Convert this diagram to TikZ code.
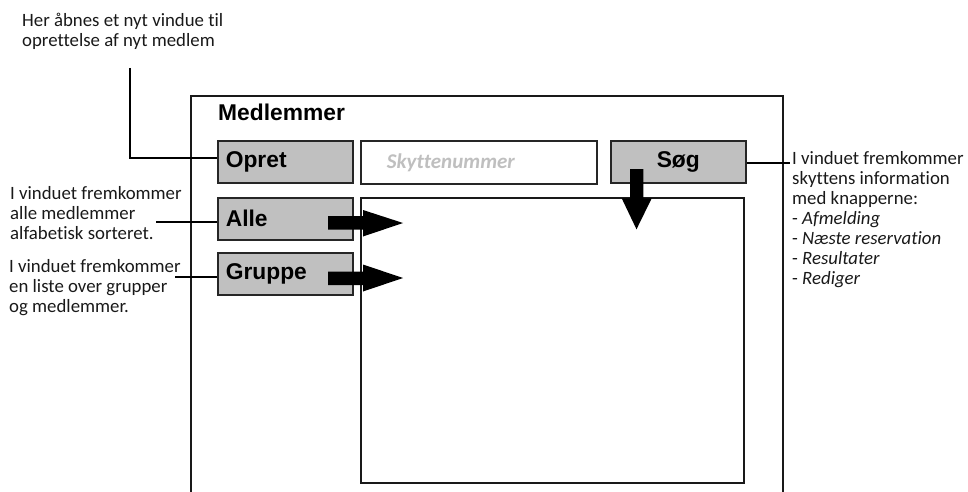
\documentclass[tikz,border=0pt]{standalone}
\usepackage{fontspec}
\setmainfont{Carlito}[Ligatures=NoCommon]
\newfontfamily\arialfont{Liberation Sans}
\definecolor{btngray}{HTML}{C0C0C0}
\definecolor{hintgray}{HTML}{BFBFBF}
\begin{document}
\begin{tikzpicture}[x=1pt,y=-1pt,
  btn/.style={draw=black!85, line width=1.6pt, fill=btngray, anchor=north west,
    minimum height=42pt, inner ysep=0pt, inner xsep=8pt, text width=119pt, align=left,
    font=\arialfont\bfseries\fontsize{22.8}{26}\selectfont},
  frame/.style={draw=black!90, line width=1.6pt},
  conn/.style={draw=black, line width=1.2pt},
  txt/.style={anchor=north west, inner sep=0pt, align=left, text=black!90,
    font=\fontsize{18.8}{20}\selectfont},
  bigarrow/.style={fill=black}]
\useasboundingbox (0,0) rectangle (968,492);
% outer window
\coordinate (fbl) at (191,492);
\coordinate (ftl) at (191,96);
\coordinate (ftr) at (783,96);
\coordinate (fbr) at (783,492);
\draw[frame] (fbl) -- (ftl) -- (ftr) -- (fbr);
\node[anchor=base west, inner sep=0pt, font=\arialfont\bfseries\fontsize{22.8}{26}\selectfont] (title) at (218,120.7) {Medlemmer};
% buttons
\node[btn] (opret) at (217,140) {Opret};
\node[btn] (alle) at (217,197) {Alle};
\node[btn] (gruppe) at (217,252) {Gruppe};
\node[btn, text width=119pt, align=center] (sog) at (610,140) {Søg};
\node[draw=black!85, line width=1.6pt, fill=white, anchor=north west, minimum height=43pt,
  inner ysep=0pt, inner xsep=26pt, text width=184pt, align=left, text=hintgray,
  font=\bfseries\itshape\fontsize{21}{22}\selectfont] (field) at (360,140) {Skyttenummer};
\node[draw=black!90, line width=1.6pt, anchor=north west, minimum width=383pt, minimum height=285pt, inner sep=0pt] (window) at (360,197) {};
% big arrows
\fill[bigarrow] (328,216.2) -- (363,216.2) -- (363,210) -- (403,223) -- (363,236.5) -- (363,229.5) -- (328,229.5) -- cycle;
\fill[bigarrow] (328,271.5) -- (363,271.5) -- (363,264.5) -- (403,278) -- (363,291.5) -- (363,285) -- (328,285) -- cycle;
\fill[bigarrow] (630,169) -- (643.3,169) -- (643.3,198.3) -- (651.7,198.3) -- (636.5,229.3) -- (621.7,198.3) -- (630,198.3) -- cycle;
% annotation texts
\node[txt] (topnote) at (22,10) {\rule{0pt}{16pt}Her åbnes et nyt vindue til\\oprettelse af nyt medlem};
\node[txt] (allenote) at (10,183.5) {\rule{0pt}{16pt}I vinduet fremkommer\\alle medlemmer\\alfabetisk sorteret.};
\node[txt] (gruppenote) at (9,256.5) {\rule{0pt}{16pt}I vinduet fremkommer\\en liste over grupper\\og medlemmer.};
\node[txt] (infonote) at (792,148) {\rule{0pt}{16pt}I vinduet fremkommer\\skyttens information\\med knapperne:\\- \textit{Afmelding}\\- \textit{Næste reservation}\\- \textit{Resultater}\\- \textit{Rediger}};
% connectors
\coordinate (c1) at (130,68);
\coordinate (c1b) at (130,158);
\draw[conn] (c1) -- (c1b) -- (c1b -| opret.west);
\coordinate (c2) at (156,222);
\draw[conn] (c2) -- (c2 -| alle.west);
\coordinate (c3) at (175,277);
\draw[conn] (c3) -- (c3 -| gruppe.west);
\coordinate (c4) at (790,163);
\draw[conn] (c4 -| sog.east) -- (c4);
\end{tikzpicture}
\end{document}
